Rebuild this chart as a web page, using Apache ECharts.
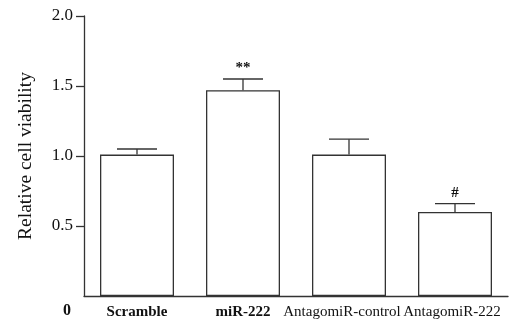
<!DOCTYPE html>
<html>
<head>
<meta charset="utf-8">
<script src="https://cdn.jsdelivr.net/npm/echarts@6/dist/echarts.min.js"></script>
<style>
  html, body { margin: 0; padding: 0; background: #fff; }
  #chart { width: 516px; height: 325px; }
</style>
</head>
<body>
<div id="chart"></div>
<script>
const categories = ["Scramble", "miR-222", "AntagomiR-control", "AntagomiR-222"];
const viability = [1.01, 1.47, 1.01, 0.60];
const errorUp = [0.04, 0.08, 0.11, 0.06];
const marks = ["", "**", "", "#"];
const yTicks = [0.5, 1.0, 1.5, 2.0];

const INK = "#333";
const TEXT = "#111";
const FONT = "Liberation Serif";

const chart = echarts.init(document.getElementById("chart"));

const errorData = categories.map((c, i) => [i, viability[i], errorUp[i]]);

// first two labels look bold in the figure, the last two are nudged apart
const labelStyles = [
  { fontWeight: "bold" },
  { fontWeight: "bold" },
  { padding: [0, 14, 0, 0] },
  { padding: [0, 6, 0, 0] }
];
const categoryData = categories.map((c, i) => ({ value: c, textStyle: labelStyles[i] }));

function renderError(params, api) {
  const idx = api.value(0);
  const v = api.value(1);
  const e = api.value(2);
  const base = api.coord([idx, v]);
  const top = api.coord([idx, v + e]);
  const half = 20;
  const children = [
    { type: "line", shape: { x1: base[0], y1: base[1], x2: top[0], y2: top[1] },
      style: { stroke: INK, lineWidth: 1.3 } },
    { type: "line", shape: { x1: top[0] - half, y1: top[1], x2: top[0] + half, y2: top[1] },
      style: { stroke: INK, lineWidth: 1.3 } }
  ];
  const mark = marks[idx];
  if (mark) {
    children.push({
      type: "text",
      x: top[0], y: top[1] - 3,
      style: { text: mark, fill: TEXT, font: "bold 15px " + FONT, align: "center", verticalAlign: "bottom" }
    });
  }
  return { type: "group", children };
}

chart.setOption({
  animation: false,
  backgroundColor: "#fff",
  grid: { left: 84, right: 8, top: 16, bottom: 29 },
  xAxis: {
    type: "category",
    data: categoryData,
    axisLine: { lineStyle: { color: INK, width: 1.3 } },
    axisTick: { show: false },
    axisLabel: { color: TEXT, fontFamily: FONT, fontSize: 15, margin: 9, interval: 0 }
  },
  yAxis: {
    type: "value",
    min: 0,
    max: 2,
    interval: 0.5,
    name: "Relative cell viability",
    nameLocation: "middle",
    nameGap: 48,
    nameTextStyle: { color: TEXT, fontFamily: FONT, fontSize: 19.5 },
    axisLine: { show: true, lineStyle: { color: INK, width: 1.3 } },
    axisTick: { show: true, length: 8, customValues: yTicks, lineStyle: { color: INK, width: 1.3 } },
    splitLine: { show: false },
    axisLabel: {
      color: TEXT, fontFamily: FONT, fontSize: 17, margin: 11,
      customValues: yTicks,
      formatter: v => v.toFixed(1)
    }
  },
  graphic: [
    { type: "text", left: 63, top: 303,
      style: { text: "0", fill: TEXT, font: "bold 16px " + FONT } }
  ],
  series: [
    {
      type: "bar",
      data: viability,
      barWidth: 74,
      itemStyle: { color: "#fff", borderColor: INK, borderWidth: 1.3 }
    },
    {
      type: "custom",
      renderItem: renderError,
      data: errorData,
      z: 3
    }
  ]
});
</script>
</body>
</html>
